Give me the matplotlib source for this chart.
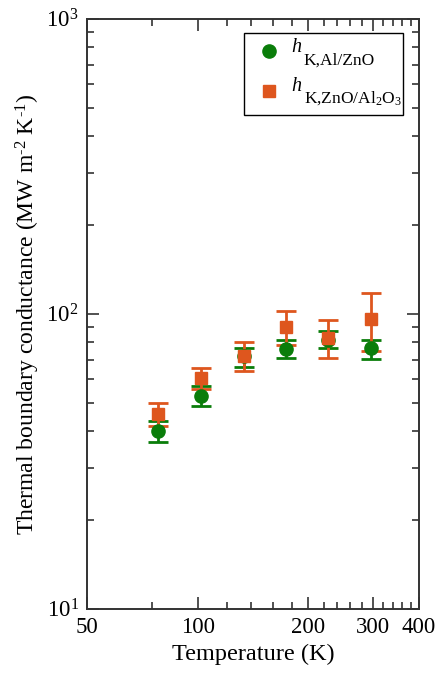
import matplotlib
matplotlib.use('Agg')
import matplotlib.pyplot as plt
from matplotlib.patches import Rectangle
from matplotlib.ticker import FixedLocator, NullFormatter, FixedFormatter

plt.rcParams['font.family'] = 'Liberation Serif'
plt.rcParams['mathtext.fontset'] = 'custom'
plt.rcParams['mathtext.rm'] = 'Liberation Serif'
plt.rcParams['mathtext.it'] = 'Liberation Serif:italic'

# --- data ---
temp = [78, 102, 134, 174, 226, 296]

h_al_zno = [40.0, 52.7, 71.7, 76.1, 81.8, 76.5]
h_al_zno_lo = [36.8, 48.7, 66.3, 70.6, 76.5, 70.2]
h_al_zno_hi = [43.5, 57.0, 76.5, 81.5, 87.6, 81.5]

h_zno_al2o3 = [45.8, 60.7, 71.9, 90.2, 82.7, 96.4]
h_zno_al2o3_lo = [41.7, 55.8, 64.1, 78.3, 70.8, 74.7]
h_zno_al2o3_hi = [49.9, 65.4, 80.2, 102.6, 95.2, 117.5]

x_ticks = [50, 100, 200, 300, 400]
x_minor = [75, 120, 140, 160, 180, 220, 240, 260, 280, 320, 340, 360, 380]
y_ticks = [10, 100, 1000]
y_ticklabels = [r'$10^1$', r'$10^2$', r'$10^3$']

GREEN = '#0a7d0a'
ORANGE = '#de561e'

fig = plt.figure(figsize=(4.37, 6.75), dpi=100)
ax = fig.add_axes([0.199, 0.098, 0.76, 0.874])

def err(v, lo, hi):
    return [[a - b for a, b in zip(v, lo)], [c - a for a, c in zip(v, hi)]]

ax.errorbar(temp, h_al_zno, yerr=err(h_al_zno, h_al_zno_lo, h_al_zno_hi),
            fmt='o', color=GREEN, ms=9.5, elinewidth=2, capsize=7, capthick=2)
ax.errorbar(temp, h_zno_al2o3, yerr=err(h_zno_al2o3, h_zno_al2o3_lo, h_zno_al2o3_hi),
            fmt='s', color=ORANGE, ms=8.5, elinewidth=2, capsize=7, capthick=2)

ax.set_xscale('log')
ax.set_yscale('log')
ax.set_xlim(50, 400)
ax.set_ylim(10, 1000)

ax.xaxis.set_major_locator(FixedLocator(x_ticks))
ax.xaxis.set_major_formatter(FixedFormatter([str(t) for t in x_ticks]))
ax.xaxis.set_minor_locator(FixedLocator(x_minor))
ax.xaxis.set_minor_formatter(NullFormatter())

ax.yaxis.set_major_locator(FixedLocator(y_ticks))
ax.yaxis.set_major_formatter(FixedFormatter(y_ticklabels))
ax.yaxis.set_minor_locator(FixedLocator([k * 10 for k in range(2, 10)] + [k * 100 for k in range(2, 10)]))
ax.yaxis.set_minor_formatter(NullFormatter())

ax.tick_params(which='both', direction='in', top=True, right=True, width=1.2,
               colors='#333333', labelcolor='black')
ax.tick_params(which='major', length=8.6, labelsize=16.5, pad=6)
ax.tick_params(which='minor', length=5)
for s in ax.spines.values():
    s.set_linewidth(1.4)
    s.set_color('#333333')

ax.set_xlabel('Temperature (K)', fontsize=17.5, labelpad=4)
ax.set_ylabel(r'Thermal boundary conductance (MW m$^{\text{-}2}$ K$^{\text{-}1}$)', fontsize=17, labelpad=3)

# --- legend drawn by hand (Grace style, big subscripts) ---
ax.add_patch(Rectangle((0.473, 0.837), 0.479, 0.139, transform=ax.transAxes,
                       facecolor='white', edgecolor='black', lw=1.0, zorder=5))
ax.plot([0.549], [0.945], 'o', color=GREEN, ms=9.5, transform=ax.transAxes, zorder=6)
ax.plot([0.549], [0.877], 's', color=ORANGE, ms=8.5, transform=ax.transAxes, zorder=6)

ax.text(0.614, 0.944, 'h', style='italic', fontsize=14.5, transform=ax.transAxes,
        va='baseline', ha='left', zorder=6)
ax.text(0.652, 0.923, 'K,Al/ZnO', fontsize=12.5, transform=ax.transAxes,
        va='baseline', ha='left', zorder=6)
ax.text(0.614, 0.877, 'h', style='italic', fontsize=14.5, transform=ax.transAxes,
        va='baseline', ha='left', zorder=6)
ax.text(0.652, 0.858, r'K,ZnO/Al$_{2}$O$_{3}$', fontsize=12.5, transform=ax.transAxes,
        va='baseline', ha='left', zorder=6)

fig.savefig('out.png', dpi=100)
